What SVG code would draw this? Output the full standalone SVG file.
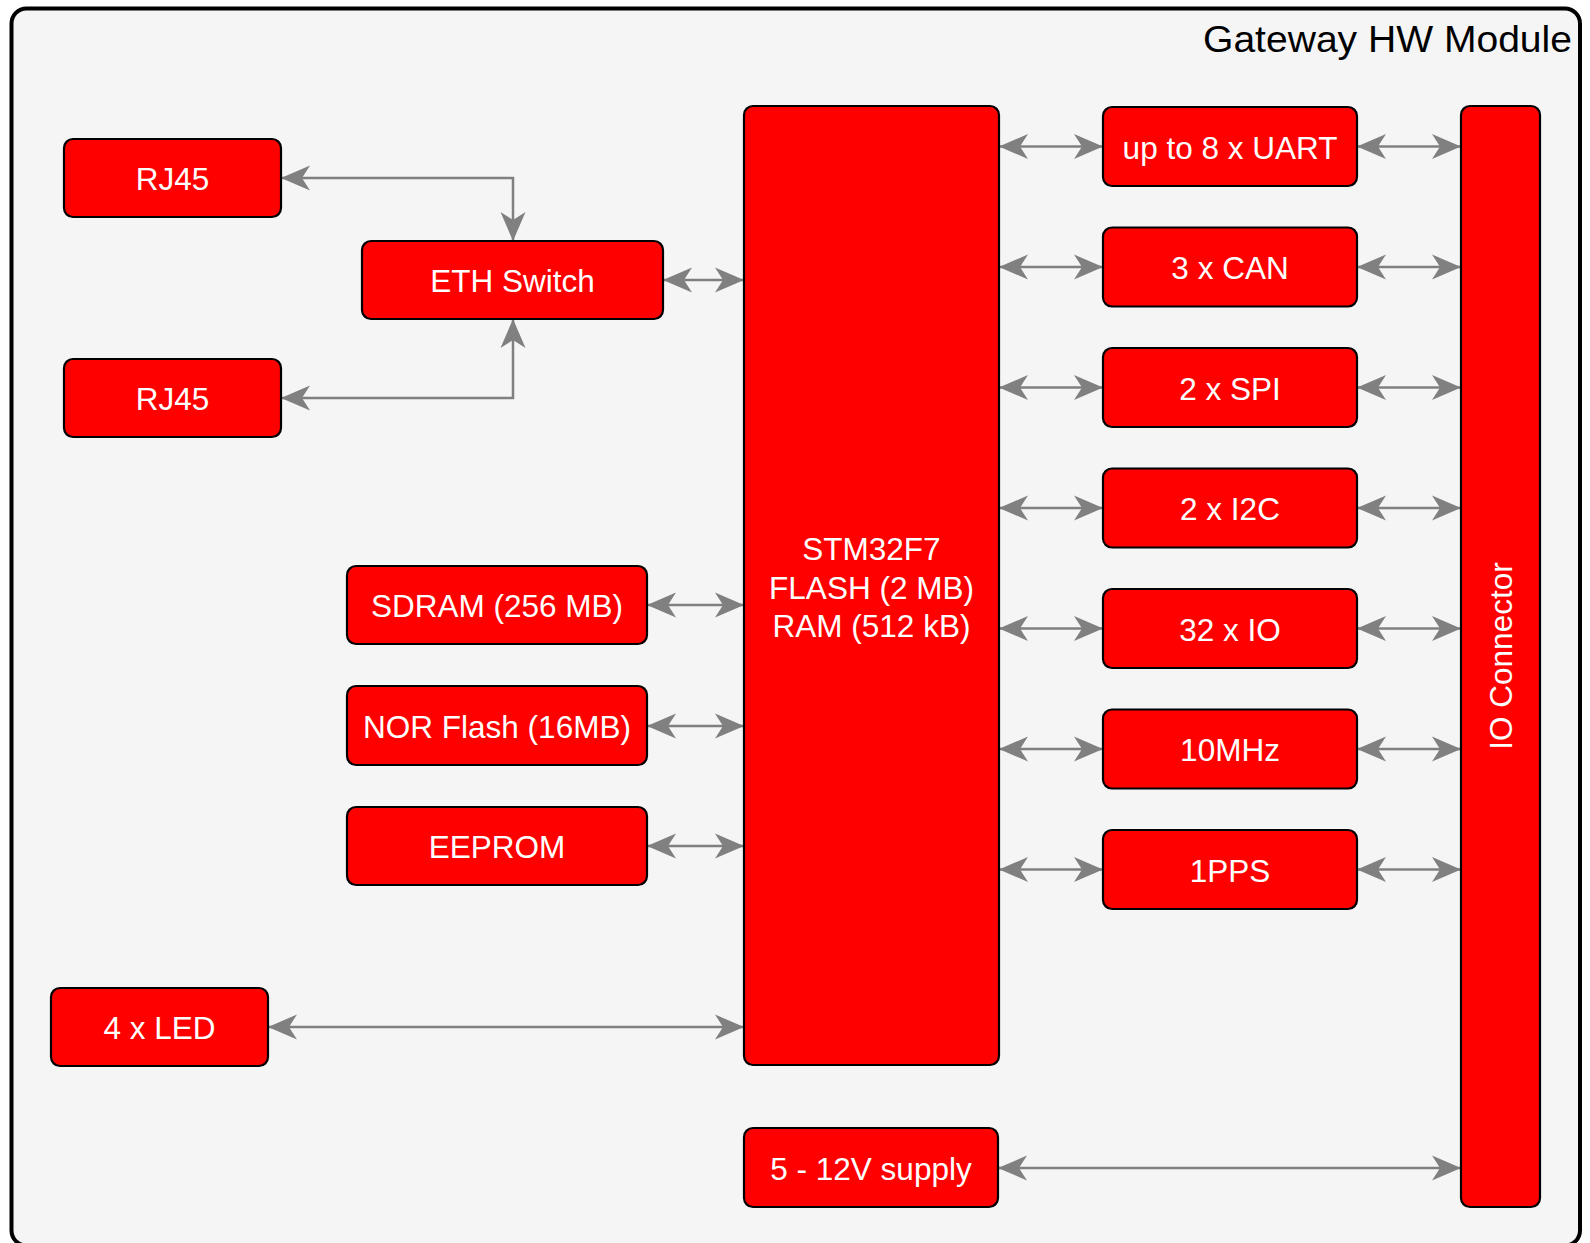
<svg xmlns="http://www.w3.org/2000/svg" width="1590" height="1243" viewBox="0 0 1590 1243">
<style>
.box{fill:#ff0000;stroke:#000;stroke-width:2.2}
.lbl{font-family:"Liberation Sans",Arial,sans-serif;font-size:31.5px;fill:#fff;text-anchor:middle}
.con{fill:none;stroke:#808080;stroke-width:2.5;marker-start:url(#ah);marker-end:url(#ah)}
</style>
<defs>
<marker id="ah" markerUnits="userSpaceOnUse" markerWidth="30" markerHeight="26" viewBox="0 0 30 26" refX="29" refY="13" orient="auto-start-reverse">
<path d="M0,0.5 L29,13 L0,25.5 L8,13 Z" fill="#808080"/>
</marker>
</defs>
<rect width="1590" height="1243" fill="#fff"/>
<g id="frame">
<rect x="11.5" y="8.5" width="1568.5" height="1237" rx="15" fill="#f5f5f5" stroke="#000" stroke-width="4"/>
<text x="1572" y="52" font-family="Liberation Sans,Arial,sans-serif" font-size="37" fill="#000" text-anchor="end" textLength="369" lengthAdjust="spacingAndGlyphs">Gateway HW Module</text>
</g>
<g id="connectors">
<path class="con" d="M281,178 H513 V241"/>
<path class="con" d="M281,398 H513 V319"/>
<path class="con" d="M663,280 H744"/>
<path class="con" d="M647,605 H744"/>
<path class="con" d="M647,726 H744"/>
<path class="con" d="M647,846 H744"/>
<path class="con" d="M268,1027 H744"/>
<path class="con" d="M999,146.5 H1103"/>
<path class="con" d="M1357,146.5 H1461"/>
<path class="con" d="M999,267 H1103"/>
<path class="con" d="M1357,267 H1461"/>
<path class="con" d="M999,387.5 H1103"/>
<path class="con" d="M1357,387.5 H1461"/>
<path class="con" d="M999,508 H1103"/>
<path class="con" d="M1357,508 H1461"/>
<path class="con" d="M999,628.5 H1103"/>
<path class="con" d="M1357,628.5 H1461"/>
<path class="con" d="M999,749 H1103"/>
<path class="con" d="M1357,749 H1461"/>
<path class="con" d="M999,869.5 H1103"/>
<path class="con" d="M1357,869.5 H1461"/>
<path class="con" d="M998,1168 H1461"/>
</g>
<g id="rj45a"><rect class="box" x="64" y="139" width="217" height="78" rx="9"/><text class="lbl" x="172.5" y="189.5">RJ45</text></g>
<g id="ethswitch"><rect class="box" x="362" y="241" width="301" height="78" rx="9"/><text class="lbl" x="512.5" y="291.5">ETH Switch</text></g>
<g id="rj45b"><rect class="box" x="64" y="359" width="217" height="78" rx="9"/><text class="lbl" x="172.5" y="409.5">RJ45</text></g>
<g id="stm32"><rect class="box" x="744" y="106" width="255" height="959" rx="9"/>
<text class="lbl" x="871.5" y="560">STM32F7</text>
<text class="lbl" x="871.5" y="599">FLASH (2 MB)</text>
<text class="lbl" x="871.5" y="637">RAM (512 kB)</text></g>
<g id="sdram"><rect class="box" x="347" y="566" width="300" height="78" rx="9"/><text class="lbl" x="497" y="616.5">SDRAM (256 MB)</text></g>
<g id="norflash"><rect class="box" x="347" y="686" width="300" height="79" rx="9"/><text class="lbl" x="497" y="737.5">NOR Flash (16MB)</text></g>
<g id="eeprom"><rect class="box" x="347" y="807" width="300" height="78" rx="9"/><text class="lbl" x="497" y="857.5">EEPROM</text></g>
<g id="led"><rect class="box" x="51" y="988" width="217" height="78" rx="9"/><text class="lbl" x="159.5" y="1038.5">4 x LED</text></g>
<g id="supply"><rect class="box" x="744" y="1128" width="254" height="79" rx="9"/><text class="lbl" x="871" y="1179.5">5 - 12V supply</text></g>
<g id="uart"><rect class="box" x="1103" y="107" width="254" height="79" rx="9"/><text class="lbl" x="1230" y="158.5">up to 8 x UART</text></g>
<g id="can"><rect class="box" x="1103" y="227.5" width="254" height="79" rx="9"/><text class="lbl" x="1230" y="279">3 x CAN</text></g>
<g id="spi"><rect class="box" x="1103" y="348" width="254" height="79" rx="9"/><text class="lbl" x="1230" y="399.5">2 x SPI</text></g>
<g id="i2c"><rect class="box" x="1103" y="468.5" width="254" height="79" rx="9"/><text class="lbl" x="1230" y="520">2 x I2C</text></g>
<g id="io"><rect class="box" x="1103" y="589" width="254" height="79" rx="9"/><text class="lbl" x="1230" y="640.5">32 x IO</text></g>
<g id="mhz"><rect class="box" x="1103" y="709.5" width="254" height="79" rx="9"/><text class="lbl" x="1230" y="761">10MHz</text></g>
<g id="pps"><rect class="box" x="1103" y="830" width="254" height="79" rx="9"/><text class="lbl" x="1230" y="881.5">1PPS</text></g>
<g id="ioconnector"><rect class="box" x="1461" y="106" width="79" height="1101" rx="9"/><text class="lbl" transform="translate(1512,656) rotate(-90)" x="0" y="0">IO Connector</text></g>
</svg>
